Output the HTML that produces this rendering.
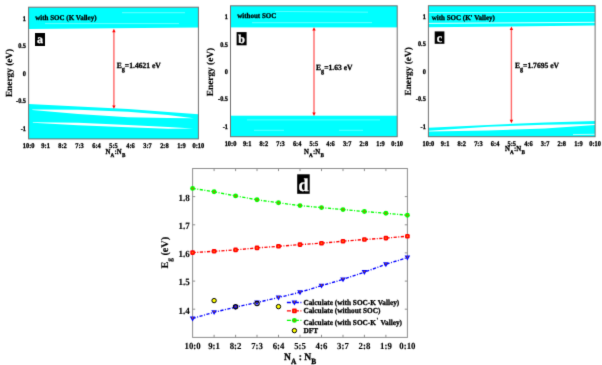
<!DOCTYPE html>
<html><head><meta charset="utf-8"><style>
html,body{margin:0;padding:0;background:#fff;width:602px;height:365px;overflow:hidden;}
svg{display:block;text-rendering:geometricPrecision;font-family:"Liberation Serif",serif;}
</style></head><body>
<svg width="602" height="365" viewBox="0 0 602 365">
<defs><filter id="bl" x="0" y="0" width="100%" height="100%" filterUnits="userSpaceOnUse" color-interpolation-filters="sRGB"><feConvolveMatrix order="3" kernelMatrix="0.0113 0.0838 0.0113 0.0838 0.6193 0.0838 0.0113 0.0838 0.0113" divisor="1" edgeMode="duplicate"/></filter></defs>
<g filter="url(#bl)">
<rect width="602" height="365" fill="#fff"/>
<polygon points="28.6,7.2 198.4,7.2 198.4,27.5 28.6,29.0" fill="#00ffff"/>
<line x1="122" y1="12.7" x2="185" y2="12.7" stroke="#80ffff" stroke-width="0.8"/>
<line x1="45" y1="23.6" x2="179" y2="23.6" stroke="#80ffff" stroke-width="0.8"/>
<polygon points="28.6,104.0 78.0,106.5 128.0,109.0 168.0,112.0 198.4,114.2 198.4,138.9 28.6,138.9" fill="#00ffff"/>
<polygon points="32.3,109.4 78.0,109.8 128.0,111.7 168.0,115.0 193.8,118.3 168.0,118.0 128.0,117.2 78.0,113.9 32.3,109.9" fill="#fff"/>
<polygon points="32.8,122.3 78.0,122.8 128.0,125.0 168.0,126.9 193.2,128.5 168.0,128.7 128.0,127.3 78.0,125.3 32.8,122.8" fill="#fff"/>
<rect x="230.5" y="5.8" width="166.7" height="21.6" fill="#00ffff"/>
<line x1="275" y1="11.4" x2="368" y2="12.2" stroke="#80ffff" stroke-width="0.7"/>
<line x1="252" y1="22.7" x2="372" y2="22.6" stroke="#80ffff" stroke-width="0.8"/>
<rect x="230.5" y="115.7" width="166.7" height="21.0" fill="#00ffff"/>
<line x1="247" y1="119.9" x2="380" y2="119.9" stroke="#80ffff" stroke-width="0.7"/>
<line x1="254" y1="130.3" x2="284" y2="130.3" stroke="#80ffff" stroke-width="0.7"/>
<line x1="339" y1="130.3" x2="363" y2="130.3" stroke="#80ffff" stroke-width="0.7"/>
<polygon points="428.4,5.7 595.1,5.7 595.1,25.6 428.4,27.3" fill="#00ffff"/>
<line x1="428.4" y1="12.5" x2="595.1" y2="12.5" stroke="#c0ffff" stroke-width="0.8"/>
<line x1="428.4" y1="23.4" x2="595.1" y2="22.3" stroke="#fff" stroke-width="0.9"/>
<polygon points="428.4,127.7 488.0,125.0 545.0,122.5 595.1,121.0 595.1,136.7 428.4,136.7" fill="#00ffff"/>
<polygon points="428.4,130.7 488.0,126.8 545.0,124.8 595.1,124.0 595.1,125.0 545.0,128.4 488.0,130.4 428.4,131.6" fill="#fff"/>
<line x1="573" y1="134.6" x2="595.1" y2="134.3" stroke="#fff" stroke-width="0.7"/>
<rect x="28.6" y="7.2" width="169.8" height="131.7" fill="none" stroke="#707070" stroke-width="1"/>
<rect x="230.5" y="5.8" width="166.7" height="130.9" fill="none" stroke="#707070" stroke-width="1"/>
<rect x="428.4" y="5.7" width="166.7" height="131.0" fill="none" stroke="#707070" stroke-width="1"/>
<text transform="translate(35.20,19.60) scale(1,1.040)" font-size="7.00" stroke="#000" stroke-width="0.28" font-family="Liberation Serif" font-weight="bold">with SOC (K Valley)</text>
<text transform="translate(237.20,18.10) scale(1,1.040)" font-size="7.00" stroke="#000" stroke-width="0.28" font-family="Liberation Serif" font-weight="bold">without SOC</text>
<text transform="translate(431.70,20.20) scale(1,1.040)" font-size="7.00" stroke="#000" stroke-width="0.28" font-family="Liberation Serif" font-weight="bold">with SOC (K' Valley)</text>
<rect x="35.0" y="33.0" width="10.0" height="13.0" fill="#000"/>
<text transform="translate(40.00,43.00) scale(1,1.000)" font-size="12.00" text-anchor="middle" fill="#fff" stroke="#fff" stroke-width="0.28" font-family="Liberation Serif" font-weight="bold">a</text>
<rect x="236.6" y="32.1" width="10.0" height="13.2" fill="#000"/>
<text transform="translate(241.60,42.60) scale(1,1.000)" font-size="12.00" text-anchor="middle" fill="#fff" stroke="#fff" stroke-width="0.28" font-family="Liberation Serif" font-weight="bold">b</text>
<rect x="434.7" y="31.4" width="9.7" height="12.4" fill="#000"/>
<text transform="translate(439.50,41.60) scale(1,1.000)" font-size="12.00" text-anchor="middle" fill="#fff" stroke="#fff" stroke-width="0.28" font-family="Liberation Serif" font-weight="bold">c</text>
<line x1="113.9" y1="30.8" x2="113.9" y2="106.8" stroke="#ff0000" stroke-opacity="0.6" stroke-width="1.4"/>
<polygon points="113.9,28.8 112.2,32.2 115.6,32.2" fill="#f00"/>
<polygon points="113.9,108.8 112.2,105.4 115.6,105.4" fill="#f00"/>
<line x1="314.0" y1="29.2" x2="314.0" y2="113.9" stroke="#ff0000" stroke-opacity="0.6" stroke-width="1.4"/>
<polygon points="314.0,27.2 312.3,30.6 315.7,30.6" fill="#f00"/>
<polygon points="314.0,115.9 312.3,112.5 315.7,112.5" fill="#f00"/>
<line x1="511.4" y1="28.6" x2="511.4" y2="121.2" stroke="#ff0000" stroke-opacity="0.6" stroke-width="1.4"/>
<polygon points="511.4,26.6 509.7,30.0 513.1,30.0" fill="#f00"/>
<polygon points="511.4,123.2 509.7,119.8 513.1,119.8" fill="#f00"/>
<text transform="translate(116.70,67.80) scale(1,1.040)" font-size="7.60" stroke="#000" stroke-width="0.28" font-family="Liberation Serif" font-weight="bold">E<tspan font-size="6.2" dy="3">g</tspan><tspan dy="-3">=1.4621 eV</tspan></text>
<text transform="translate(316.00,70.20) scale(1,1.040)" font-size="7.60" stroke="#000" stroke-width="0.28" font-family="Liberation Serif" font-weight="bold">E<tspan font-size="6.2" dy="3">g</tspan><tspan dy="-3">=1.63 eV</tspan></text>
<text transform="translate(514.90,68.20) scale(1,1.040)" font-size="7.60" stroke="#000" stroke-width="0.28" font-family="Liberation Serif" font-weight="bold">E<tspan font-size="6.2" dy="3">g</tspan><tspan dy="-3">=1.7695 eV</tspan></text>
<text transform="translate(26.00,20.70) scale(1,1.120)" font-size="6.30" text-anchor="end" stroke="#000" stroke-width="0.28" font-family="Liberation Serif" font-weight="bold">1</text>
<text transform="translate(26.00,48.15) scale(1,1.120)" font-size="6.30" text-anchor="end" stroke="#000" stroke-width="0.28" font-family="Liberation Serif" font-weight="bold">0.5</text>
<text transform="translate(26.00,75.60) scale(1,1.120)" font-size="6.30" text-anchor="end" stroke="#000" stroke-width="0.28" font-family="Liberation Serif" font-weight="bold">0</text>
<text transform="translate(26.00,103.05) scale(1,1.120)" font-size="6.30" text-anchor="end" stroke="#000" stroke-width="0.28" font-family="Liberation Serif" font-weight="bold">-0.5</text>
<text transform="translate(26.00,130.50) scale(1,1.120)" font-size="6.30" text-anchor="end" stroke="#000" stroke-width="0.28" font-family="Liberation Serif" font-weight="bold">-1</text>
<text transform="translate(228.00,19.10) scale(1,1.120)" font-size="6.30" text-anchor="end" stroke="#000" stroke-width="0.28" font-family="Liberation Serif" font-weight="bold">1</text>
<text transform="translate(228.00,46.55) scale(1,1.120)" font-size="6.30" text-anchor="end" stroke="#000" stroke-width="0.28" font-family="Liberation Serif" font-weight="bold">0.5</text>
<text transform="translate(228.00,74.00) scale(1,1.120)" font-size="6.30" text-anchor="end" stroke="#000" stroke-width="0.28" font-family="Liberation Serif" font-weight="bold">0</text>
<text transform="translate(228.00,101.45) scale(1,1.120)" font-size="6.30" text-anchor="end" stroke="#000" stroke-width="0.28" font-family="Liberation Serif" font-weight="bold">-0.5</text>
<text transform="translate(228.00,128.90) scale(1,1.120)" font-size="6.30" text-anchor="end" stroke="#000" stroke-width="0.28" font-family="Liberation Serif" font-weight="bold">-1</text>
<text transform="translate(425.80,18.90) scale(1,1.120)" font-size="6.30" text-anchor="end" stroke="#000" stroke-width="0.28" font-family="Liberation Serif" font-weight="bold">1</text>
<text transform="translate(425.80,46.35) scale(1,1.120)" font-size="6.30" text-anchor="end" stroke="#000" stroke-width="0.28" font-family="Liberation Serif" font-weight="bold">0.5</text>
<text transform="translate(425.80,73.80) scale(1,1.120)" font-size="6.30" text-anchor="end" stroke="#000" stroke-width="0.28" font-family="Liberation Serif" font-weight="bold">0</text>
<text transform="translate(425.80,101.25) scale(1,1.120)" font-size="6.30" text-anchor="end" stroke="#000" stroke-width="0.28" font-family="Liberation Serif" font-weight="bold">-0.5</text>
<text transform="translate(425.80,128.70) scale(1,1.120)" font-size="6.30" text-anchor="end" stroke="#000" stroke-width="0.28" font-family="Liberation Serif" font-weight="bold">-1</text>
<text transform="translate(28.60,147.90) scale(1,1.120)" font-size="6.40" text-anchor="middle" stroke="#000" stroke-width="0.28" font-family="Liberation Serif" font-weight="bold">10:0</text>
<text transform="translate(45.58,147.90) scale(1,1.120)" font-size="6.40" text-anchor="middle" stroke="#000" stroke-width="0.28" font-family="Liberation Serif" font-weight="bold">9:1</text>
<text transform="translate(62.56,147.90) scale(1,1.120)" font-size="6.40" text-anchor="middle" stroke="#000" stroke-width="0.28" font-family="Liberation Serif" font-weight="bold">8:2</text>
<text transform="translate(79.54,147.90) scale(1,1.120)" font-size="6.40" text-anchor="middle" stroke="#000" stroke-width="0.28" font-family="Liberation Serif" font-weight="bold">7:3</text>
<text transform="translate(96.52,147.90) scale(1,1.120)" font-size="6.40" text-anchor="middle" stroke="#000" stroke-width="0.28" font-family="Liberation Serif" font-weight="bold">6:4</text>
<text transform="translate(113.50,147.90) scale(1,1.120)" font-size="6.40" text-anchor="middle" stroke="#000" stroke-width="0.28" font-family="Liberation Serif" font-weight="bold">5:5</text>
<text transform="translate(130.48,147.90) scale(1,1.120)" font-size="6.40" text-anchor="middle" stroke="#000" stroke-width="0.28" font-family="Liberation Serif" font-weight="bold">4:6</text>
<text transform="translate(147.46,147.90) scale(1,1.120)" font-size="6.40" text-anchor="middle" stroke="#000" stroke-width="0.28" font-family="Liberation Serif" font-weight="bold">3:7</text>
<text transform="translate(164.44,147.90) scale(1,1.120)" font-size="6.40" text-anchor="middle" stroke="#000" stroke-width="0.28" font-family="Liberation Serif" font-weight="bold">2:8</text>
<text transform="translate(181.42,147.90) scale(1,1.120)" font-size="6.40" text-anchor="middle" stroke="#000" stroke-width="0.28" font-family="Liberation Serif" font-weight="bold">1:9</text>
<text transform="translate(198.40,147.90) scale(1,1.120)" font-size="6.40" text-anchor="middle" stroke="#000" stroke-width="0.28" font-family="Liberation Serif" font-weight="bold">0:10</text>
<text transform="translate(230.50,146.20) scale(1,1.120)" font-size="6.40" text-anchor="middle" stroke="#000" stroke-width="0.28" font-family="Liberation Serif" font-weight="bold">10:0</text>
<text transform="translate(247.17,146.20) scale(1,1.120)" font-size="6.40" text-anchor="middle" stroke="#000" stroke-width="0.28" font-family="Liberation Serif" font-weight="bold">9:1</text>
<text transform="translate(263.84,146.20) scale(1,1.120)" font-size="6.40" text-anchor="middle" stroke="#000" stroke-width="0.28" font-family="Liberation Serif" font-weight="bold">8:2</text>
<text transform="translate(280.51,146.20) scale(1,1.120)" font-size="6.40" text-anchor="middle" stroke="#000" stroke-width="0.28" font-family="Liberation Serif" font-weight="bold">7:3</text>
<text transform="translate(297.18,146.20) scale(1,1.120)" font-size="6.40" text-anchor="middle" stroke="#000" stroke-width="0.28" font-family="Liberation Serif" font-weight="bold">6:4</text>
<text transform="translate(313.85,146.20) scale(1,1.120)" font-size="6.40" text-anchor="middle" stroke="#000" stroke-width="0.28" font-family="Liberation Serif" font-weight="bold">5:5</text>
<text transform="translate(330.52,146.20) scale(1,1.120)" font-size="6.40" text-anchor="middle" stroke="#000" stroke-width="0.28" font-family="Liberation Serif" font-weight="bold">4:6</text>
<text transform="translate(347.19,146.20) scale(1,1.120)" font-size="6.40" text-anchor="middle" stroke="#000" stroke-width="0.28" font-family="Liberation Serif" font-weight="bold">3:7</text>
<text transform="translate(363.86,146.20) scale(1,1.120)" font-size="6.40" text-anchor="middle" stroke="#000" stroke-width="0.28" font-family="Liberation Serif" font-weight="bold">2:8</text>
<text transform="translate(380.53,146.20) scale(1,1.120)" font-size="6.40" text-anchor="middle" stroke="#000" stroke-width="0.28" font-family="Liberation Serif" font-weight="bold">1:9</text>
<text transform="translate(397.20,146.20) scale(1,1.120)" font-size="6.40" text-anchor="middle" stroke="#000" stroke-width="0.28" font-family="Liberation Serif" font-weight="bold">0:10</text>
<text transform="translate(428.40,145.90) scale(1,1.120)" font-size="6.40" text-anchor="middle" stroke="#000" stroke-width="0.28" font-family="Liberation Serif" font-weight="bold">10:0</text>
<text transform="translate(445.07,145.90) scale(1,1.120)" font-size="6.40" text-anchor="middle" stroke="#000" stroke-width="0.28" font-family="Liberation Serif" font-weight="bold">9:1</text>
<text transform="translate(461.74,145.90) scale(1,1.120)" font-size="6.40" text-anchor="middle" stroke="#000" stroke-width="0.28" font-family="Liberation Serif" font-weight="bold">8:2</text>
<text transform="translate(478.41,145.90) scale(1,1.120)" font-size="6.40" text-anchor="middle" stroke="#000" stroke-width="0.28" font-family="Liberation Serif" font-weight="bold">7:3</text>
<text transform="translate(495.08,145.90) scale(1,1.120)" font-size="6.40" text-anchor="middle" stroke="#000" stroke-width="0.28" font-family="Liberation Serif" font-weight="bold">6:4</text>
<text transform="translate(511.75,145.90) scale(1,1.120)" font-size="6.40" text-anchor="middle" stroke="#000" stroke-width="0.28" font-family="Liberation Serif" font-weight="bold">5:5</text>
<text transform="translate(528.42,145.90) scale(1,1.120)" font-size="6.40" text-anchor="middle" stroke="#000" stroke-width="0.28" font-family="Liberation Serif" font-weight="bold">4:6</text>
<text transform="translate(545.09,145.90) scale(1,1.120)" font-size="6.40" text-anchor="middle" stroke="#000" stroke-width="0.28" font-family="Liberation Serif" font-weight="bold">3:7</text>
<text transform="translate(561.76,145.90) scale(1,1.120)" font-size="6.40" text-anchor="middle" stroke="#000" stroke-width="0.28" font-family="Liberation Serif" font-weight="bold">2:8</text>
<text transform="translate(578.43,145.90) scale(1,1.120)" font-size="6.40" text-anchor="middle" stroke="#000" stroke-width="0.28" font-family="Liberation Serif" font-weight="bold">1:9</text>
<text transform="translate(595.10,145.90) scale(1,1.120)" font-size="6.40" text-anchor="middle" stroke="#000" stroke-width="0.28" font-family="Liberation Serif" font-weight="bold">0:10</text>
<text transform="translate(105.50,154.20) scale(1,1.120)" font-size="6.80" stroke="#000" stroke-width="0.28" font-family="Liberation Serif" font-weight="bold">N<tspan font-size="5.2" dy="2.4">A</tspan><tspan dx="0.3" dy="-2.4">:N</tspan><tspan font-size="5.2" dx="0.4" dy="2.4">B</tspan></text>
<text transform="translate(304.00,154.30) scale(1,1.120)" font-size="6.80" stroke="#000" stroke-width="0.28" font-family="Liberation Serif" font-weight="bold">N<tspan font-size="5.2" dy="2.4">A</tspan><tspan dx="0.3" dy="-2.4">:N</tspan><tspan font-size="5.2" dx="0.4" dy="2.4">B</tspan></text>
<text transform="translate(505.00,151.00) scale(1,1.120)" font-size="6.80" stroke="#000" stroke-width="0.28" font-family="Liberation Serif" font-weight="bold">N<tspan font-size="5.2" dy="2.4">A</tspan><tspan dx="0.3" dy="-2.4">:N</tspan><tspan font-size="5.2" dx="0.4" dy="2.4">B</tspan></text>
<text transform="translate(11.9,97.1) rotate(-90)" font-size="9.3" stroke="#000" stroke-width="0.15" font-family="Liberation Serif" font-weight="bold">Energy (eV)</text>
<text transform="translate(213.2,96.2) rotate(-90)" font-size="9.3" stroke="#000" stroke-width="0.15" font-family="Liberation Serif" font-weight="bold">Energy (eV)</text>
<text transform="translate(410.9,95.5) rotate(-90)" font-size="9.3" stroke="#000" stroke-width="0.15" font-family="Liberation Serif" font-weight="bold">Energy (eV)</text>
<rect x="192.6" y="168.5" width="214.8" height="168.9" fill="none" stroke="#8e8e8e" stroke-width="1"/>
<line x1="214.1" y1="168.5" x2="214.1" y2="171.1" stroke="#8e8e8e" stroke-width="1"/>
<line x1="214.1" y1="337.4" x2="214.1" y2="334.8" stroke="#8e8e8e" stroke-width="1"/>
<line x1="235.6" y1="168.5" x2="235.6" y2="171.1" stroke="#8e8e8e" stroke-width="1"/>
<line x1="235.6" y1="337.4" x2="235.6" y2="334.8" stroke="#8e8e8e" stroke-width="1"/>
<line x1="257.0" y1="168.5" x2="257.0" y2="171.1" stroke="#8e8e8e" stroke-width="1"/>
<line x1="257.0" y1="337.4" x2="257.0" y2="334.8" stroke="#8e8e8e" stroke-width="1"/>
<line x1="278.5" y1="168.5" x2="278.5" y2="171.1" stroke="#8e8e8e" stroke-width="1"/>
<line x1="278.5" y1="337.4" x2="278.5" y2="334.8" stroke="#8e8e8e" stroke-width="1"/>
<line x1="300.0" y1="168.5" x2="300.0" y2="171.1" stroke="#8e8e8e" stroke-width="1"/>
<line x1="300.0" y1="337.4" x2="300.0" y2="334.8" stroke="#8e8e8e" stroke-width="1"/>
<line x1="321.5" y1="168.5" x2="321.5" y2="171.1" stroke="#8e8e8e" stroke-width="1"/>
<line x1="321.5" y1="337.4" x2="321.5" y2="334.8" stroke="#8e8e8e" stroke-width="1"/>
<line x1="343.0" y1="168.5" x2="343.0" y2="171.1" stroke="#8e8e8e" stroke-width="1"/>
<line x1="343.0" y1="337.4" x2="343.0" y2="334.8" stroke="#8e8e8e" stroke-width="1"/>
<line x1="364.4" y1="168.5" x2="364.4" y2="171.1" stroke="#8e8e8e" stroke-width="1"/>
<line x1="364.4" y1="337.4" x2="364.4" y2="334.8" stroke="#8e8e8e" stroke-width="1"/>
<line x1="385.9" y1="168.5" x2="385.9" y2="171.1" stroke="#8e8e8e" stroke-width="1"/>
<line x1="385.9" y1="337.4" x2="385.9" y2="334.8" stroke="#8e8e8e" stroke-width="1"/>
<line x1="192.6" y1="309.2" x2="195.2" y2="309.2" stroke="#8e8e8e" stroke-width="1"/>
<line x1="407.4" y1="309.2" x2="404.8" y2="309.2" stroke="#8e8e8e" stroke-width="1"/>
<text transform="translate(189.80,313.55) scale(1,1.050)" font-size="9.00" text-anchor="end" stroke="#000" stroke-width="0.10" font-family="Liberation Serif" font-weight="bold">1.4</text>
<line x1="192.6" y1="281.1" x2="195.2" y2="281.1" stroke="#8e8e8e" stroke-width="1"/>
<line x1="407.4" y1="281.1" x2="404.8" y2="281.1" stroke="#8e8e8e" stroke-width="1"/>
<text transform="translate(189.80,285.40) scale(1,1.050)" font-size="9.00" text-anchor="end" stroke="#000" stroke-width="0.10" font-family="Liberation Serif" font-weight="bold">1.5</text>
<line x1="192.6" y1="252.9" x2="195.2" y2="252.9" stroke="#8e8e8e" stroke-width="1"/>
<line x1="407.4" y1="252.9" x2="404.8" y2="252.9" stroke="#8e8e8e" stroke-width="1"/>
<text transform="translate(189.80,257.25) scale(1,1.050)" font-size="9.00" text-anchor="end" stroke="#000" stroke-width="0.10" font-family="Liberation Serif" font-weight="bold">1.6</text>
<line x1="192.6" y1="224.8" x2="195.2" y2="224.8" stroke="#8e8e8e" stroke-width="1"/>
<line x1="407.4" y1="224.8" x2="404.8" y2="224.8" stroke="#8e8e8e" stroke-width="1"/>
<text transform="translate(189.80,229.10) scale(1,1.050)" font-size="9.00" text-anchor="end" stroke="#000" stroke-width="0.10" font-family="Liberation Serif" font-weight="bold">1.7</text>
<line x1="192.6" y1="196.6" x2="195.2" y2="196.6" stroke="#8e8e8e" stroke-width="1"/>
<line x1="407.4" y1="196.6" x2="404.8" y2="196.6" stroke="#8e8e8e" stroke-width="1"/>
<text transform="translate(189.80,200.95) scale(1,1.050)" font-size="9.00" text-anchor="end" stroke="#000" stroke-width="0.10" font-family="Liberation Serif" font-weight="bold">1.8</text>
<text transform="translate(192.60,349.20) scale(1,1.050)" font-size="8.80" text-anchor="middle" stroke="#000" stroke-width="0.10" font-family="Liberation Serif" font-weight="bold">10:0</text>
<text transform="translate(214.08,349.20) scale(1,1.050)" font-size="8.80" text-anchor="middle" stroke="#000" stroke-width="0.10" font-family="Liberation Serif" font-weight="bold">9:1</text>
<text transform="translate(235.56,349.20) scale(1,1.050)" font-size="8.80" text-anchor="middle" stroke="#000" stroke-width="0.10" font-family="Liberation Serif" font-weight="bold">8:2</text>
<text transform="translate(257.04,349.20) scale(1,1.050)" font-size="8.80" text-anchor="middle" stroke="#000" stroke-width="0.10" font-family="Liberation Serif" font-weight="bold">7:3</text>
<text transform="translate(278.52,349.20) scale(1,1.050)" font-size="8.80" text-anchor="middle" stroke="#000" stroke-width="0.10" font-family="Liberation Serif" font-weight="bold">6:4</text>
<text transform="translate(300.00,349.20) scale(1,1.050)" font-size="8.80" text-anchor="middle" stroke="#000" stroke-width="0.10" font-family="Liberation Serif" font-weight="bold">5:5</text>
<text transform="translate(321.48,349.20) scale(1,1.050)" font-size="8.80" text-anchor="middle" stroke="#000" stroke-width="0.10" font-family="Liberation Serif" font-weight="bold">4:6</text>
<text transform="translate(342.96,349.20) scale(1,1.050)" font-size="8.80" text-anchor="middle" stroke="#000" stroke-width="0.10" font-family="Liberation Serif" font-weight="bold">3:7</text>
<text transform="translate(364.44,349.20) scale(1,1.050)" font-size="8.80" text-anchor="middle" stroke="#000" stroke-width="0.10" font-family="Liberation Serif" font-weight="bold">2:8</text>
<text transform="translate(385.92,349.20) scale(1,1.050)" font-size="8.80" text-anchor="middle" stroke="#000" stroke-width="0.10" font-family="Liberation Serif" font-weight="bold">1:9</text>
<text transform="translate(407.40,349.20) scale(1,1.050)" font-size="8.80" text-anchor="middle" stroke="#000" stroke-width="0.10" font-family="Liberation Serif" font-weight="bold">0:10</text>
<text transform="translate(284.10,359.60) scale(1,1.080)" font-size="9.60" stroke="#000" stroke-width="0.28" font-family="Liberation Serif" font-weight="bold">N<tspan font-size="7.4" dy="4.2">A</tspan><tspan dy="-4.2"> : N</tspan><tspan font-size="7.4" dy="4.2">B</tspan></text>
<text transform="translate(168.4,268.6) rotate(-90)" font-size="10.2" stroke="#000" stroke-width="0.15" font-family="Liberation Serif" font-weight="bold">E<tspan font-size="7.4" dy="3.4">g</tspan><tspan dy="-3.4"> (eV)</tspan></text>
<rect x="297.2" y="174.3" width="12.5" height="19.5" fill="#000"/>
<text transform="translate(303.40,190.80) scale(1,1.000)" font-size="18.00" text-anchor="middle" fill="#fff" stroke="#fff" stroke-width="0.28" font-family="Liberation Serif" font-weight="bold">d</text>
<circle cx="214.1" cy="300.6" r="2.2" fill="#ffff00" stroke="#000" stroke-width="1"/>
<circle cx="278.5" cy="306.6" r="2.2" fill="#ffff00" stroke="#000" stroke-width="1"/>
<polyline points="192.6,188.4 214.1,191.8 235.6,195.9 257.0,199.8 278.5,202.8 300.0,205.6 321.5,207.6 343.0,209.6 364.4,211.5 385.9,213.3 407.4,215.2" fill="none" stroke="#00ff00" stroke-width="1.35" stroke-dasharray="3.2,1.5,1,1.5"/>
<polyline points="192.6,252.6 214.1,251.3 235.6,249.9 257.0,247.9 278.5,246.3 300.0,244.6 321.5,243.2 343.0,241.2 364.4,239.5 385.9,238.1 407.4,236.2" fill="none" stroke="#ff0000" stroke-width="1.35" stroke-dasharray="3.2,1.5,1,1.5"/>
<polyline points="192.6,318.5 214.1,312.2 235.6,307.1 257.0,302.5 278.5,297.5 300.0,292.3 321.5,285.7 343.0,279.4 364.4,272.1 385.9,264.3 407.4,257.6" fill="none" stroke="#0000ff" stroke-width="1.35" stroke-dasharray="3.2,1.5,1,1.5"/>
<circle cx="192.6" cy="188.4" r="2.45" fill="#00ff00"/><circle cx="192.6" cy="188.4" r="1.0" fill="#c07000"/>
<circle cx="214.1" cy="191.8" r="2.45" fill="#00ff00"/><circle cx="214.1" cy="191.8" r="1.0" fill="#c07000"/>
<circle cx="235.6" cy="195.9" r="2.45" fill="#00ff00"/><circle cx="235.6" cy="195.9" r="1.0" fill="#c07000"/>
<circle cx="257.0" cy="199.8" r="2.45" fill="#00ff00"/><circle cx="257.0" cy="199.8" r="1.0" fill="#c07000"/>
<circle cx="278.5" cy="202.8" r="2.45" fill="#00ff00"/><circle cx="278.5" cy="202.8" r="1.0" fill="#c07000"/>
<circle cx="300.0" cy="205.6" r="2.45" fill="#00ff00"/><circle cx="300.0" cy="205.6" r="1.0" fill="#c07000"/>
<circle cx="321.5" cy="207.6" r="2.45" fill="#00ff00"/><circle cx="321.5" cy="207.6" r="1.0" fill="#c07000"/>
<circle cx="343.0" cy="209.6" r="2.45" fill="#00ff00"/><circle cx="343.0" cy="209.6" r="1.0" fill="#c07000"/>
<circle cx="364.4" cy="211.5" r="2.45" fill="#00ff00"/><circle cx="364.4" cy="211.5" r="1.0" fill="#c07000"/>
<circle cx="385.9" cy="213.3" r="2.45" fill="#00ff00"/><circle cx="385.9" cy="213.3" r="1.0" fill="#c07000"/>
<circle cx="407.4" cy="215.2" r="2.45" fill="#00ff00"/><circle cx="407.4" cy="215.2" r="1.0" fill="#c07000"/>
<rect x="190.3" y="250.3" width="4.6" height="4.6" rx="1.3" fill="#ff0000"/><circle cx="192.6" cy="252.6" r="0.9" fill="#ff7000"/>
<rect x="211.8" y="249.0" width="4.6" height="4.6" rx="1.3" fill="#ff0000"/><circle cx="214.1" cy="251.3" r="0.9" fill="#ff7000"/>
<rect x="233.3" y="247.6" width="4.6" height="4.6" rx="1.3" fill="#ff0000"/><circle cx="235.6" cy="249.9" r="0.9" fill="#ff7000"/>
<rect x="254.7" y="245.6" width="4.6" height="4.6" rx="1.3" fill="#ff0000"/><circle cx="257.0" cy="247.9" r="0.9" fill="#ff7000"/>
<rect x="276.2" y="244.0" width="4.6" height="4.6" rx="1.3" fill="#ff0000"/><circle cx="278.5" cy="246.3" r="0.9" fill="#ff7000"/>
<rect x="297.7" y="242.3" width="4.6" height="4.6" rx="1.3" fill="#ff0000"/><circle cx="300.0" cy="244.6" r="0.9" fill="#ff7000"/>
<rect x="319.2" y="240.9" width="4.6" height="4.6" rx="1.3" fill="#ff0000"/><circle cx="321.5" cy="243.2" r="0.9" fill="#ff7000"/>
<rect x="340.7" y="238.9" width="4.6" height="4.6" rx="1.3" fill="#ff0000"/><circle cx="343.0" cy="241.2" r="0.9" fill="#ff7000"/>
<rect x="362.1" y="237.2" width="4.6" height="4.6" rx="1.3" fill="#ff0000"/><circle cx="364.4" cy="239.5" r="0.9" fill="#ff7000"/>
<rect x="383.6" y="235.8" width="4.6" height="4.6" rx="1.3" fill="#ff0000"/><circle cx="385.9" cy="238.1" r="0.9" fill="#ff7000"/>
<rect x="405.1" y="233.9" width="4.6" height="4.6" rx="1.3" fill="#ff0000"/><circle cx="407.4" cy="236.2" r="0.9" fill="#ff7000"/>
<polygon points="189.8,316.5 195.4,316.5 192.6,321.4" fill="#0000ff"/>
<circle cx="192.6" cy="317.9" r="0.8" fill="#c06000"/>
<polygon points="211.3,310.2 216.9,310.2 214.1,315.1" fill="#0000ff"/>
<circle cx="214.1" cy="311.6" r="0.8" fill="#c06000"/>
<polygon points="232.8,305.1 238.4,305.1 235.6,310.0" fill="#0000ff"/>
<circle cx="235.6" cy="306.5" r="0.8" fill="#c06000"/>
<polygon points="254.2,300.5 259.8,300.5 257.0,305.4" fill="#0000ff"/>
<circle cx="257.0" cy="301.9" r="0.8" fill="#c06000"/>
<polygon points="275.7,295.5 281.3,295.5 278.5,300.4" fill="#0000ff"/>
<circle cx="278.5" cy="296.9" r="0.8" fill="#c06000"/>
<polygon points="297.2,290.3 302.8,290.3 300.0,295.2" fill="#0000ff"/>
<circle cx="300.0" cy="291.7" r="0.8" fill="#c06000"/>
<polygon points="318.7,283.7 324.3,283.7 321.5,288.6" fill="#0000ff"/>
<circle cx="321.5" cy="285.1" r="0.8" fill="#c06000"/>
<polygon points="340.2,277.4 345.8,277.4 343.0,282.3" fill="#0000ff"/>
<circle cx="343.0" cy="278.8" r="0.8" fill="#c06000"/>
<polygon points="361.6,270.1 367.2,270.1 364.4,275.0" fill="#0000ff"/>
<circle cx="364.4" cy="271.5" r="0.8" fill="#c06000"/>
<polygon points="383.1,262.3 388.7,262.3 385.9,267.2" fill="#0000ff"/>
<circle cx="385.9" cy="263.7" r="0.8" fill="#c06000"/>
<polygon points="404.6,255.6 410.2,255.6 407.4,260.5" fill="#0000ff"/>
<circle cx="407.4" cy="257.0" r="0.8" fill="#c06000"/>
<circle cx="235.6" cy="306.7" r="2.2" fill="none" stroke="#000" stroke-width="1.1"/>
<circle cx="257.0" cy="303.5" r="2.2" fill="none" stroke="#000" stroke-width="1.1"/>
<line x1="286.9" y1="302.5" x2="301.7" y2="302.5" stroke="#0000ff" stroke-width="1.35" stroke-dasharray="4,1.5,1,1.5"/>
<polygon points="291.6,300.5 297.2,300.5 294.4,305.4" fill="#0000ff"/>
<circle cx="294.4" cy="301.9" r="0.8" fill="#c06000"/>
<text transform="translate(303.40,305.00) scale(1,1.040)" font-size="7.30" stroke="#000" stroke-width="0.28" font-family="Liberation Serif" font-weight="bold">Calculate (with SOC-K Valley)</text>
<line x1="286.9" y1="310.9" x2="301.7" y2="310.9" stroke="#ff0000" stroke-width="1.35" stroke-dasharray="4,1.5,1,1.5"/>
<rect x="292.1" y="308.6" width="4.6" height="4.6" rx="0.8" fill="#ff0000"/><circle cx="294.4" cy="310.9" r="0.9" fill="#ff7000"/>
<text transform="translate(303.40,313.40) scale(1,1.040)" font-size="7.30" stroke="#000" stroke-width="0.28" font-family="Liberation Serif" font-weight="bold">Calculate (without SOC)</text>
<line x1="286.9" y1="320.4" x2="301.7" y2="320.4" stroke="#00ff00" stroke-width="1.35" stroke-dasharray="4,1.5,1,1.5"/>
<circle cx="294.4" cy="320.4" r="2.45" fill="#00ff00"/><circle cx="294.4" cy="320.4" r="1.0" fill="#c07000"/>
<text transform="translate(303.40,324.60) scale(1,1.040)" font-size="7.30" stroke="#000" stroke-width="0.28" font-family="Liberation Serif" font-weight="bold">Calculate (with SOC-K<tspan font-size="6" dx="0.6" dy="-2.6">'</tspan><tspan dx="0.5" dy="2.6"> Valley)</tspan></text>
<circle cx="294.4" cy="330.6" r="2.2" fill="#ffff00" stroke="#000" stroke-width="1"/>
<text transform="translate(303.40,333.30) scale(1,1.040)" font-size="7.30" stroke="#000" stroke-width="0.28" font-family="Liberation Serif" font-weight="bold">DFT</text>
</g>
</svg>
</body></html>
